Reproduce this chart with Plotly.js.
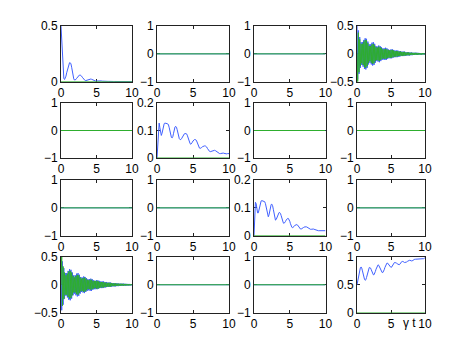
<!DOCTYPE html>
<html><head><meta charset="utf-8">
<script src="https://cdn.plot.ly/plotly-3.0.1.min.js"></script>
<style>html,body{margin:0;padding:0;background:#fff}</style>
</head><body><div id="chart" style="width:469px;height:352px"></div>
<script>
const t = [0,0.1,0.2,0.3,0.4,0.5,0.6,0.7,0.8,0.9,1,1.1,1.2,1.3,1.4,1.5,1.6,1.7,1.8,1.9,2,2.1,2.2,2.3,2.4,2.5,2.6,2.7,2.8,2.9,3,3.1,3.2,3.3,3.4,3.5,3.6,3.7,3.8,3.9,4,4.1,4.2,4.3,4.4,4.5,4.6,4.7,4.8,4.9,5,5.1,5.2,5.3,5.4,5.5,5.6,5.7,5.8,5.9,6,6.1,6.2,6.3,6.4,6.5,6.6,6.7,6.8,6.9,7,7.1,7.2,7.3,7.4,7.5,7.6,7.7,7.8,7.9,8,8.1,8.2,8.3,8.4,8.5,8.6,8.7,8.8,8.9,9,9.1,9.2,9.3,9.4,9.5,9.6,9.7,9.8,9.9,10];
const zeroT = [0, 10];
const zeroV = [0, 0];

const rho11 = [0.50,0.36,0.22,0.10,0.03,0.02,0.03,0.05,0.08,0.11,0.14,0.16,0.17,0.17,0.16,0.13,0.09,0.05,0.025,0.015,0.015,0.02,0.03,0.04,0.05,0.057,0.06,0.06,0.058,0.05,0.04,0.03,0.02,0.012,0.01,0.01,0.012,0.015,0.018,0.021,0.023,0.024,0.024,0.022,0.018,0.013,0.009,0.006,0.005,0.005,0.006,0.007,0.008,0.009,0.009,0.009,0.008,0.007,0.005,0.004,0.003,0.003,0.003,0.003,0.003,0.003,0.003,0.003,0.002,0.002,0.002,0.002,0.002,0.002,0.002,0.002,0.002,0.002,0.002,0.002,0.002,0.002,0.002,0.002,0.002,0.001,0.001,0.001,0.001,0.001,0.001,0.001,0.001,0.001,0.001,0.001,0.001,0.001,0.001,0.001,0.001];

const rho14re = [0.50,-0.46,0.42,-0.36,0.30,-0.25,0.21,-0.20,0.21,-0.23,
0.25,-0.27,0.28,-0.28,0.27,-0.25,0.22,-0.19,0.17,-0.16,
0.17,-0.19,0.20,-0.21,0.21,-0.20,0.18,-0.16,0.14,-0.13,
0.13,-0.14,0.15,-0.15,0.14,-0.13,0.12,-0.11,0.10,-0.10,
0.10,-0.11,0.11,-0.11,0.10,-0.09,0.08,-0.08,0.07,-0.08,
0.08,-0.08,0.08,-0.07,0.07,-0.06,0.06,-0.06,0.06,-0.06,
0.06,-0.05,0.05,-0.05,0.05,-0.04,0.04,-0.04,0.04,-0.04,
0.04,-0.035,0.03,-0.03,0.03,-0.03,0.03,-0.03,0.025,-0.025,
0.025,-0.025,0.02,-0.02,0.02,-0.02,0.02,-0.02,0.02,-0.018,
0.018,-0.018,0.016,-0.016,0.015,-0.015,0.015,-0.014,0.013,-0.012,
0.012];
const rho14im = [0.00,-0.50,0.38,-0.33,0.26,-0.22,0.18,-0.17,0.18,-0.20,
0.22,-0.24,0.25,-0.25,0.24,-0.22,0.19,-0.16,0.14,-0.13,
0.14,-0.16,0.17,-0.18,0.18,-0.17,0.15,-0.13,0.12,-0.11,
0.11,-0.12,0.13,-0.13,0.12,-0.11,0.10,-0.09,0.08,-0.08,
0.08,-0.09,0.09,-0.09,0.08,-0.07,0.07,-0.07,0.06,-0.07,
0.07,-0.07,0.07,-0.06,0.06,-0.05,0.05,-0.05,0.05,-0.05,
0.05,-0.04,0.04,-0.04,0.04,-0.035,0.035,-0.035,0.035,-0.035,
0.035,-0.03,0.025,-0.025,0.025,-0.025,0.025,-0.025,0.02,-0.02,
0.02,-0.02,0.018,-0.018,0.018,-0.018,0.017,-0.017,0.017,-0.015,
0.015,-0.015,0.014,-0.014,0.013,-0.013,0.013,-0.012,0.011,-0.01,
0.01];
const rho41re = [0.50,-0.46,0.42,-0.36,0.30,-0.25,0.21,-0.20,0.21,-0.23,
0.25,-0.27,0.28,-0.28,0.27,-0.25,0.22,-0.19,0.17,-0.16,
0.17,-0.19,0.20,-0.21,0.21,-0.20,0.18,-0.16,0.14,-0.13,
0.13,-0.14,0.15,-0.15,0.14,-0.13,0.12,-0.11,0.10,-0.10,
0.10,-0.11,0.11,-0.11,0.10,-0.09,0.08,-0.08,0.07,-0.08,
0.08,-0.08,0.08,-0.07,0.07,-0.06,0.06,-0.06,0.06,-0.06,
0.06,-0.05,0.05,-0.05,0.05,-0.04,0.04,-0.04,0.04,-0.04,
0.04,-0.035,0.03,-0.03,0.03,-0.03,0.03,-0.03,0.025,-0.025,
0.025,-0.025,0.02,-0.02,0.02,-0.02,0.02,-0.02,0.02,-0.018,
0.018,-0.018,0.016,-0.016,0.015,-0.015,0.015,-0.014,0.013,-0.012,
0.012];
const rho41im = [0.00,0.50,-0.38,0.33,-0.26,0.22,-0.18,0.17,-0.18,0.20,
-0.22,0.24,-0.25,0.25,-0.24,0.22,-0.19,0.16,-0.14,0.13,
-0.14,0.16,-0.17,0.18,-0.18,0.17,-0.15,0.13,-0.12,0.11,
-0.11,0.12,-0.13,0.13,-0.12,0.11,-0.10,0.09,-0.08,0.08,
-0.08,0.09,-0.09,0.09,-0.08,0.07,-0.07,0.07,-0.06,0.07,
-0.07,0.07,-0.07,0.06,-0.06,0.05,-0.05,0.05,-0.05,0.05,
-0.05,0.04,-0.04,0.04,-0.04,0.035,-0.035,0.035,-0.035,0.035,
-0.035,0.03,-0.025,0.025,-0.025,0.025,-0.025,0.025,-0.02,0.02,
-0.02,0.02,-0.018,0.018,-0.018,0.018,-0.017,0.017,-0.017,0.015,
-0.015,0.015,-0.014,0.014,-0.013,0.013,-0.013,0.012,-0.011,0.01,
-0.01];

const rho22 = [0,0.06,0.11,0.127,0.11,0.09,0.082,0.09,0.105,0.118,0.125,0.127,0.127,0.126,0.125,0.124,0.12,0.11,0.095,0.082,0.075,0.073,0.078,0.09,0.105,0.113,0.115,0.112,0.103,0.09,0.078,0.07,0.067,0.067,0.07,0.075,0.08,0.085,0.088,0.089,0.089,0.088,0.083,0.075,0.065,0.057,0.052,0.05,0.052,0.057,0.062,0.066,0.067,0.067,0.066,0.062,0.055,0.047,0.04,0.036,0.035,0.036,0.038,0.041,0.043,0.044,0.044,0.044,0.043,0.04,0.035,0.03,0.026,0.024,0.023,0.024,0.025,0.027,0.028,0.028,0.028,0.027,0.025,0.022,0.019,0.017,0.016,0.016,0.016,0.017,0.018,0.018,0.018,0.017,0.016,0.015,0.015,0.015,0.016,0.016,0.016];

const rho33 = [0,0.08,0.12,0.115,0.095,0.082,0.082,0.095,0.11,0.12,0.125,0.126,0.125,0.124,0.124,0.122,0.115,0.1,0.085,0.072,0.068,0.075,0.09,0.105,0.112,0.113,0.108,0.095,0.078,0.063,0.056,0.058,0.065,0.074,0.08,0.083,0.083,0.08,0.072,0.062,0.052,0.046,0.044,0.046,0.051,0.056,0.06,0.062,0.062,0.059,0.052,0.043,0.035,0.03,0.029,0.03,0.033,0.037,0.039,0.04,0.04,0.038,0.034,0.029,0.026,0.024,0.024,0.025,0.027,0.029,0.031,0.032,0.032,0.032,0.031,0.029,0.027,0.025,0.024,0.023,0.023,0.024,0.024,0.024,0.023,0.022,0.02,0.019,0.018,0.018,0.018,0.018,0.018,0.018,0.018,0.018,0.018,0.018,0.018,0.018,0.018];

const rho44 = [0.50,0.56,0.63,0.70,0.77,0.81,0.82,0.80,0.75,0.69,0.64,0.60,0.58,0.59,0.63,0.69,0.75,0.79,0.81,0.81,0.80,0.77,0.73,0.70,0.68,0.68,0.70,0.74,0.78,0.82,0.85,0.86,0.85,0.82,0.78,0.75,0.73,0.72,0.72,0.74,0.77,0.81,0.85,0.88,0.89,0.89,0.87,0.85,0.83,0.81,0.81,0.82,0.84,0.87,0.89,0.90,0.90,0.90,0.89,0.88,0.87,0.86,0.86,0.87,0.89,0.91,0.92,0.92,0.92,0.91,0.90,0.90,0.90,0.91,0.92,0.93,0.94,0.94,0.94,0.93,0.93,0.93,0.94,0.95,0.95,0.96,0.96,0.96,0.96,0.96,0.96,0.96,0.96,0.97,0.97,0.97,0.97,0.97,0.97,0.98,0.98];

const yTicksUnit = [-1, 0, 1];
const yTicksHalf = [0, 0.5];
const yTicksSym = [-0.5, 0, 0.5];
const yTicksPop = [0, 0.1, 0.2];
const yTicksOne = [0, 0.5, 1];
const xTicks = [0, 5, 10];

const Z = {x: zeroT, y: zeroV};
// panels row-major: [blue series, green series, yrange, yticks]
const panels = [
  [{x:t,y:rho11}, Z, [0,0.5], yTicksHalf],
  [Z, Z, [-1,1], yTicksUnit],
  [Z, Z, [-1,1], yTicksUnit],
  [{x:t,y:rho14re}, {x:t,y:rho14im}, [-0.5,0.5], yTicksSym],
  [Z, Z, [-1,1], yTicksUnit],
  [{x:t,y:rho22}, Z, [0,0.2], yTicksPop],
  [Z, Z, [-1,1], yTicksUnit],
  [Z, Z, [-1,1], yTicksUnit],
  [Z, Z, [-1,1], yTicksUnit],
  [Z, Z, [-1,1], yTicksUnit],
  [{x:t,y:rho33}, Z, [0,0.2], yTicksPop],
  [Z, Z, [-1,1], yTicksUnit],
  [{x:t,y:rho41re}, {x:t,y:rho41im}, [-0.5,0.5], yTicksSym],
  [Z, Z, [-1,1], yTicksUnit],
  [Z, Z, [-1,1], yTicksUnit],
  [{x:t,y:rho44}, Z, [0,1], yTicksOne]
];

const W = 469, H = 352;
const colPx = [[61,132],[157,229],[254,325.5],[357,425]];
const rowPx = [[26,81.7],[103,158],[180,235.7],[257,312.5]];
const BLUE = '#4060ff', GREEN = '#2eae2e';

const data = [];
const layout = {
  width: W, height: H, margin: {l:0,r:0,t:0,b:0},
  paper_bgcolor: '#fff', plot_bgcolor: '#fff', showlegend: false,
  font: {family: 'Liberation Sans, Arial, sans-serif', size: 12, color: '#000'},
  annotations: [{text: 'γ t', xref: 'paper', yref: 'paper', x: 409.5/W, y: 1 - 323/H,
    xanchor: 'center', yanchor: 'middle', showarrow: false, font: {size: 12, color: '#000'}}]
};
panels.forEach((p, i) => {
  const r = Math.floor(i/4), c = i % 4, n = i + 1;
  const xa = 'x' + (n === 1 ? '' : n), ya = 'y' + (n === 1 ? '' : n);
  data.push({x: p[0].x, y: p[0].y, xaxis: xa, yaxis: ya, type: 'scatter', mode: 'lines',
    line: {color: BLUE, width: 1}, hoverinfo: 'skip'});
  data.push({x: p[1].x, y: p[1].y, xaxis: xa, yaxis: ya, type: 'scatter', mode: 'lines',
    line: {color: GREEN, width: 1}, hoverinfo: 'skip'});
  const common = {showline: true, mirror: 'ticks', linecolor: '#222', linewidth: 1,
    ticks: 'inside', ticklen: 3, tickcolor: '#222', showgrid: false, zeroline: false,
    layer: 'below traces', tickfont: {size: 12, color: '#000'}, fixedrange: true};
  layout['xaxis' + (n === 1 ? '' : n)] = Object.assign({}, common, {
    domain: [colPx[c][0]/W, colPx[c][1]/W], range: [0, 10], tickvals: xTicks,
    anchor: ya});
  layout['yaxis' + (n === 1 ? '' : n)] = Object.assign({}, common, {
    domain: [1 - rowPx[r][1]/H, 1 - rowPx[r][0]/H], range: p[2], tickvals: p[3],
    anchor: xa});
});
Plotly.newPlot('chart', data, layout, {staticPlot: true});
</script></body></html>
